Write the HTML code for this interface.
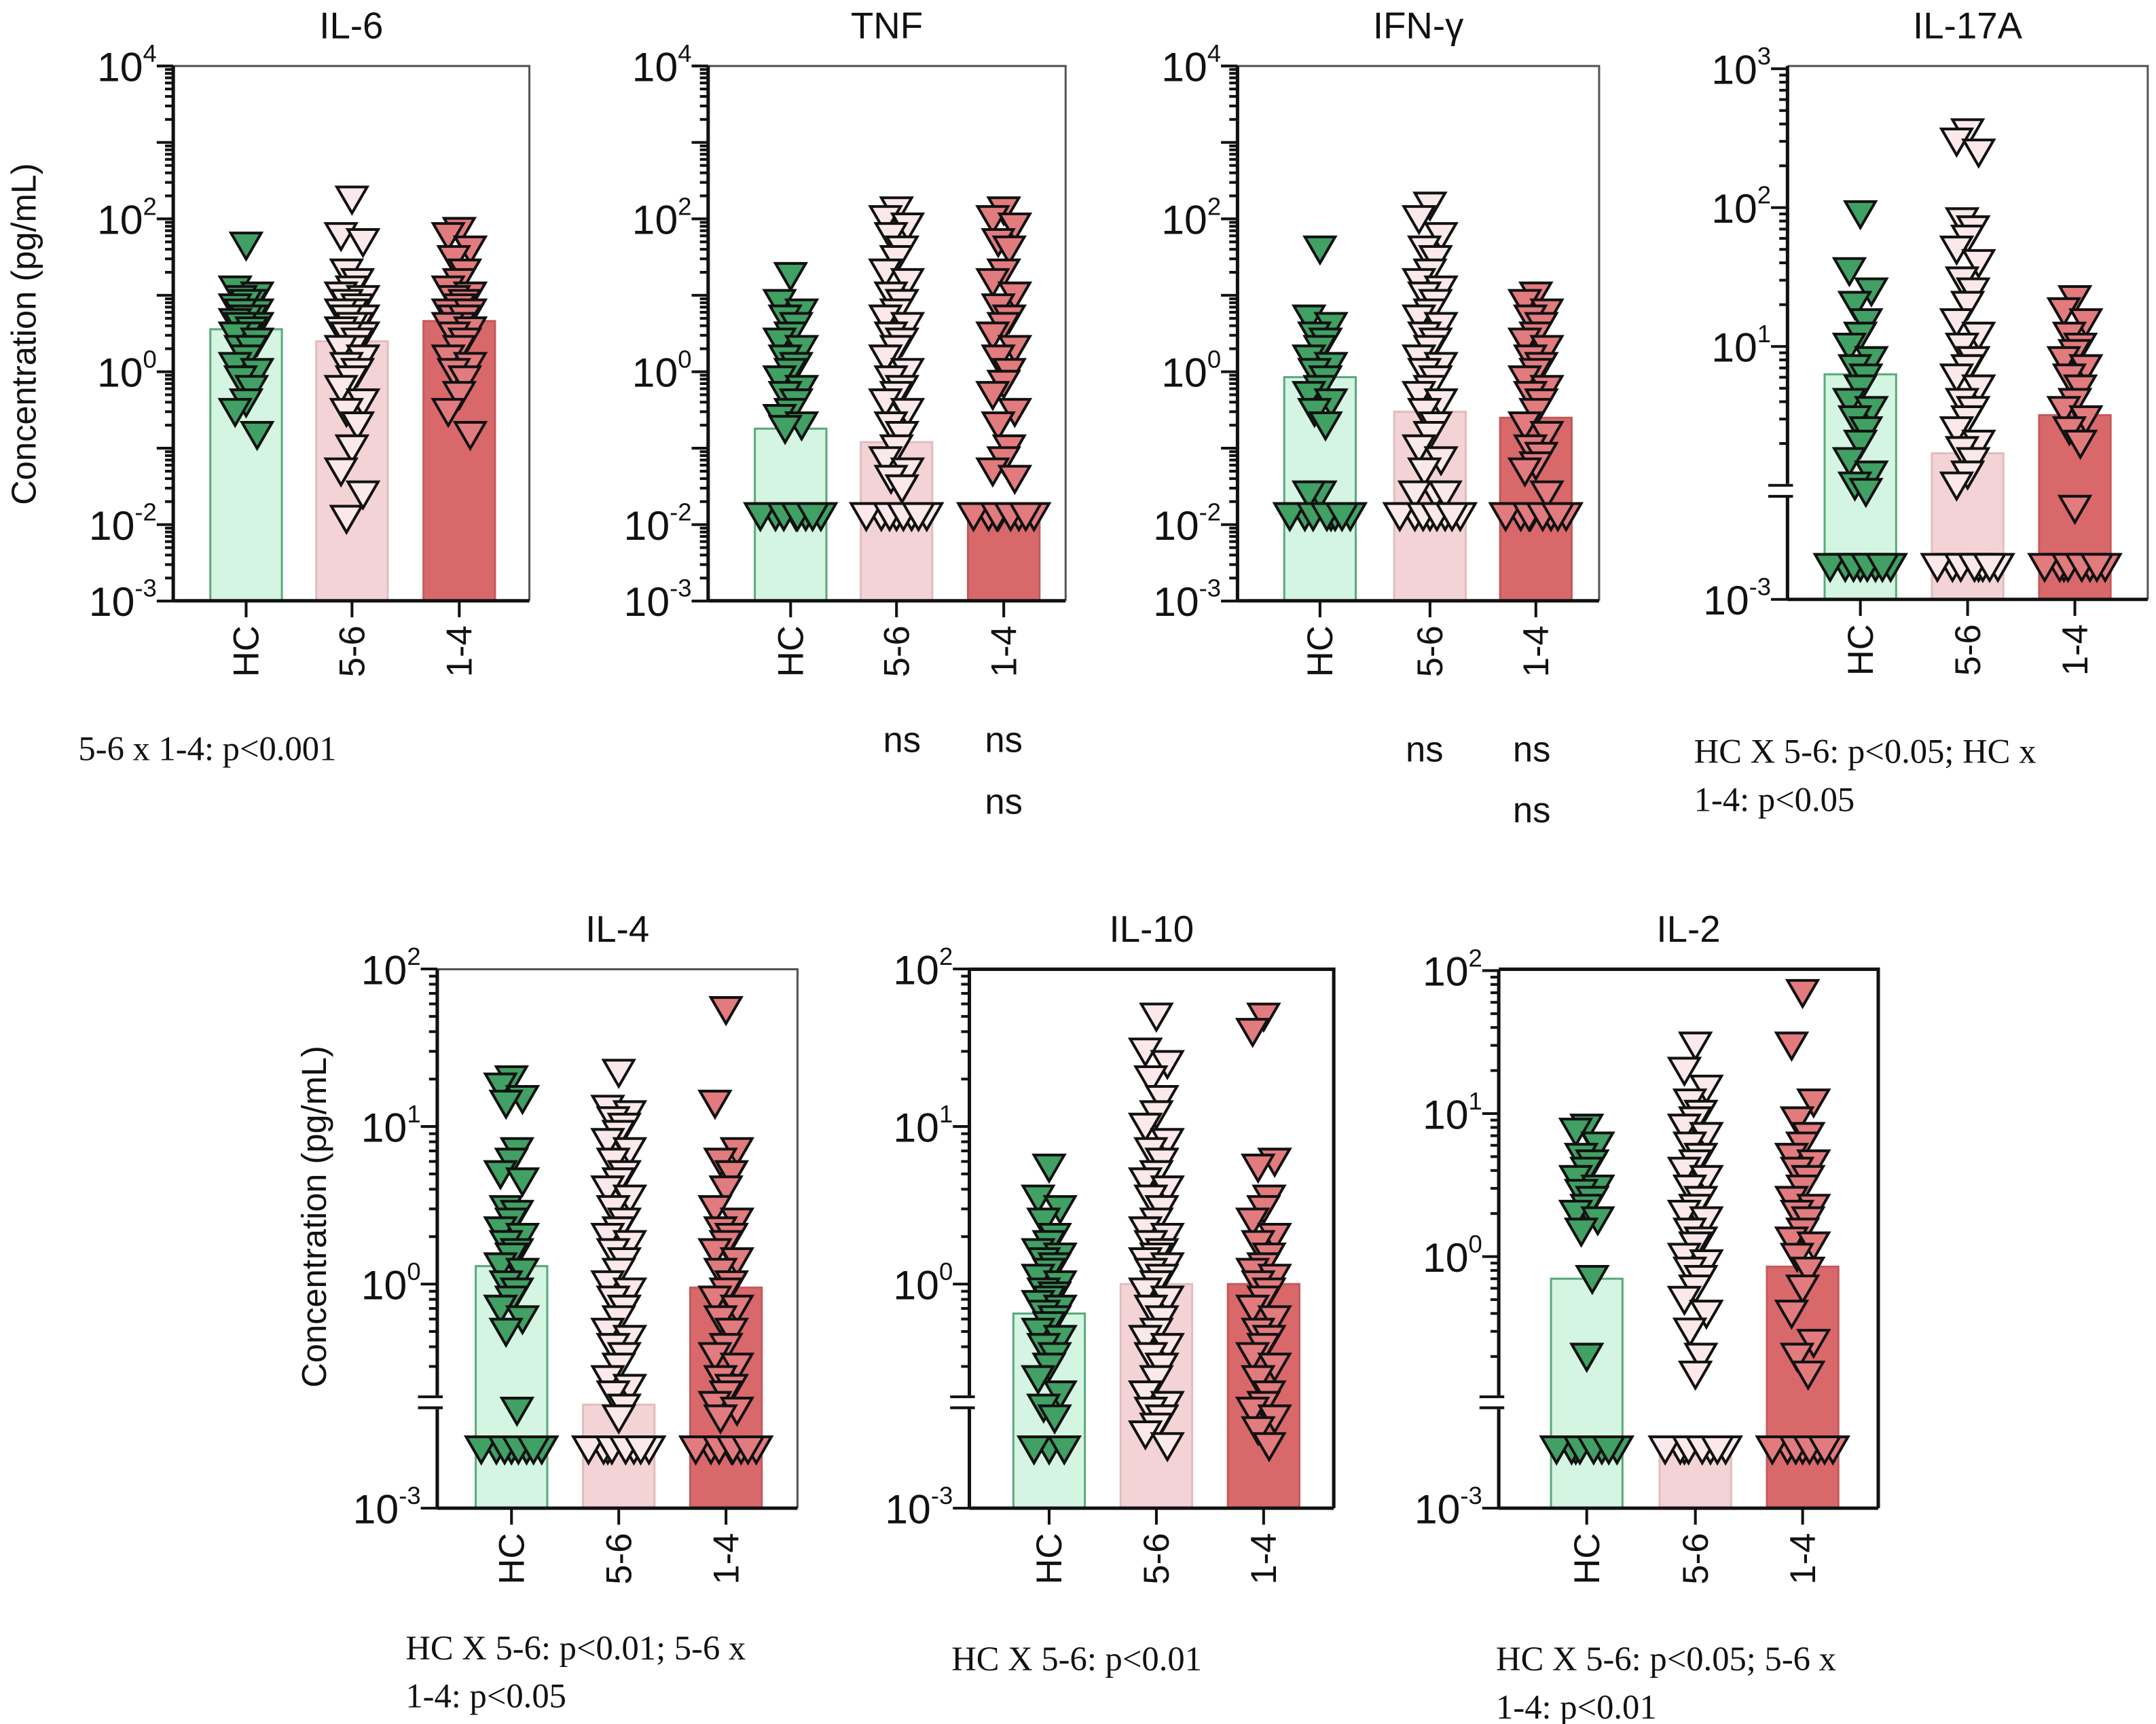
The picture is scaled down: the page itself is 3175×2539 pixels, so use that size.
<!DOCTYPE html>
<html><head><meta charset="utf-8"><style>
html,body{margin:0;padding:0;background:#fff;}
svg{display:block;}
text{font-family:"Liberation Sans","DejaVu Sans",sans-serif;fill:#111;}
.serif{font-family:"Liberation Serif",serif;}
</style></head><body>
<svg id="fig" width="3175" height="2539" viewBox="0 0 1568 1254" preserveAspectRatio="none" xmlns="http://www.w3.org/2000/svg">
<text x="0" y="0" font-size="25" text-anchor="middle" transform="translate(26,243) rotate(-90)">Concentration (pg/mL)</text>
<text x="0" y="0" font-size="25" text-anchor="middle" transform="translate(237,885) rotate(-90)">Concentration (pg/mL)</text>
<text class="serif" x="57" y="553" font-size="25">5-6 x 1-4: p&lt;0.001</text>
<text x="656" y="547" font-size="26" text-anchor="middle">ns</text>
<text x="730" y="547" font-size="26" text-anchor="middle">ns</text>
<text x="730" y="592" font-size="26" text-anchor="middle">ns</text>
<text x="1036" y="554" font-size="26" text-anchor="middle">ns</text>
<text x="1114" y="554" font-size="26" text-anchor="middle">ns</text>
<text x="1114" y="598" font-size="26" text-anchor="middle">ns</text>
<text class="serif" x="1232" y="555" font-size="25">HC X 5-6: p&lt;0.05; HC x</text>
<text class="serif" x="1232" y="590" font-size="25">1-4: p&lt;0.05</text>
<text class="serif" x="295" y="1207" font-size="25">HC X 5-6: p&lt;0.01;  5-6 x</text>
<text class="serif" x="295" y="1242" font-size="25">1-4: p&lt;0.05</text>
<text class="serif" x="692" y="1215" font-size="25">HC X 5-6: p&lt;0.01</text>
<text class="serif" x="1088" y="1215" font-size="25">HC X 5-6: p&lt;0.05; 5-6 x</text>
<text class="serif" x="1088" y="1250" font-size="25">1-4: p&lt;0.01</text>
</svg>
<script>
// ---- data (pg/mL) ----
const groups = ["HC","5-6","1-4"];
const il6_bars = [3.6, 2.5, 4.6];
const il6_hc = [45,12,10,9,8,8,7,6,6,5,5,4.5,4,4,3.5,3,3,2.5,2,2,1.5,1.2,1,0.8,0.6,0.4,0.3,0.15];
const il6_56 = [180,60,50,20,15,12,10,9,8,7,6,6,5,5,4,4,3.5,3,3,2.5,2,2,1.5,1.2,1,0.8,0.6,0.4,0.3,0.2,0.1,0.05,0.025,0.012];
const il6_14 = [70,60,40,30,20,15,12,10,9,8,7,6,6,5,5,4,4,3.5,3,2.5,2,1.5,1.2,1,0.8,0.5,0.3,0.15];
const tnf_bars = [0.18, 0.12, 0.017];
const tnf_hc = [18,8,6,5,4,3,2.5,2,1.5,1.2,1,0.8,0.6,0.5,0.4,0.3,0.25,0.2,0.18,0.013,0.013,0.013,0.013,0.013,0.013,0.013,0.013];
const tnf_56 = [130,100,80,60,40,30,20,15,10,8,6,5,4,3,2.5,2,1.5,1,0.8,0.6,0.5,0.4,0.3,0.2,0.15,0.1,0.07,0.05,0.04,0.03,0.013,0.013,0.013,0.013,0.013,0.013,0.013,0.013];
const tnf_14 = [130,100,80,50,40,20,15,10,7,5,4,3,2,1.5,1,0.7,0.5,0.3,0.2,0.1,0.07,0.05,0.04,0.013,0.013,0.013,0.013,0.013,0.013,0.013,0.013];
const ifn_bars = [0.85, 0.3, 0.25];
const ifn_hc = [40,5,4,3,2.5,2,1.5,1.2,1,0.8,0.6,0.5,0.4,0.3,0.2,0.025,0.025,0.013,0.013,0.013,0.013,0.013,0.013,0.013,0.013];
const ifn_56 = [150,100,60,40,30,20,15,12,10,8,6,5,4,3,2.5,2,1.5,1.2,1,0.8,0.6,0.5,0.4,0.3,0.2,0.15,0.1,0.07,0.05,0.025,0.025,0.025,0.013,0.013,0.013,0.013,0.013,0.013,0.013,0.013];
const ifn_14 = [10,8,6,5,4,3,2.5,2,1.5,1.2,1,0.8,0.6,0.5,0.4,0.3,0.2,0.15,0.1,0.08,0.06,0.05,0.025,0.013,0.013,0.013,0.013,0.013,0.013,0.013,0.013];
const il17_bars = [6.3, 1.7, 3.2];
const il17_hc = [90,35,25,20,15,12,10,8,7,6,5,4,3.5,3,2.5,2,1.5,1.2,1,0.9,0.004,0.004,0.004,0.004,0.004,0.004,0.004,0.004];
const il17_56 = [350,300,250,80,70,60,50,40,30,25,20,15,12,10,8,7,6,5,4,3.5,3,2.5,2,1.8,1.5,1.2,1,0.004,0.004,0.004,0.004,0.004,0.004,0.004,0.004];
const il17_14 = [22,18,15,12,10,9,8,7,6,5,4,3.5,3,2.5,2,0.047,0.004,0.004,0.004,0.004,0.004,0.004,0.004,0.004];
const il4_bars = [1.3, 0.09, 0.95];
const il4_hc = [20,18,15,14,7,6,5,4.5,3,2.8,2.5,2.2,2,1.8,1.6,1.5,1.3,1.2,1,0.9,0.8,0.7,0.6,0.5,0.07,0.013,0.013,0.013,0.013,0.013,0.013,0.013,0.013];
const il4_56 = [22,13,12,11,10,9,8,7,6,5,4.5,4,3.5,3,2.5,2.2,2,1.8,1.6,1.4,1.2,1,0.9,0.8,0.7,0.6,0.5,0.45,0.4,0.35,0.3,0.25,0.22,0.2,0.08,0.05,0.013,0.013,0.013,0.013,0.013,0.013,0.013,0.013];
const il4_14 = [55,14,7,6,5,4,3,2.5,2.2,2,1.8,1.6,1.4,1.2,1,0.9,0.8,0.7,0.6,0.5,0.4,0.35,0.3,0.25,0.22,0.2,0.09,0.07,0.05,0.013,0.013,0.013,0.013,0.013,0.013,0.013,0.013];
const il10_bars = [0.65, 1.0, 1.0];
const il10_hc = [5.5,3.5,3,2.5,2,1.8,1.6,1.5,1.4,1.3,1.2,1.1,1,0.9,0.85,0.8,0.75,0.7,0.65,0.6,0.55,0.5,0.45,0.4,0.35,0.3,0.25,0.2,0.08,0.05,0.013,0.013,0.013];
const il10_56 = [50,30,25,20,15,12,10,8,7,6,5,4.5,4,3.5,3,2.5,2.2,2,1.8,1.6,1.5,1.4,1.3,1.2,1.1,1,0.9,0.8,0.7,0.6,0.5,0.45,0.4,0.35,0.3,0.25,0.2,0.09,0.07,0.05,0.035,0.025,0.015];
const il10_14 = [50,40,6,5.5,3.5,3,2.5,2,1.8,1.5,1.3,1.2,1.1,1,0.9,0.8,0.7,0.6,0.5,0.45,0.4,0.35,0.3,0.25,0.2,0.09,0.07,0.05,0.03,0.015];
const il2_bars = [0.7, 0.01, 0.85];
const il2_hc = [8,7.5,6,5,4.5,4,3.5,3,2.8,2.5,2.2,2,1.8,1.5,0.7,0.2,0.013,0.013,0.013,0.013,0.013,0.013,0.013,0.013];
const il2_56 = [30,20,15,12,10,9,8,7,6,5,4.5,4,3.5,3,2.5,2.2,2,1.8,1.5,1.3,1.2,1,0.9,0.8,0.7,0.6,0.5,0.4,0.3,0.2,0.15,0.013,0.013,0.013,0.013,0.013,0.013,0.013,0.013];
const il2_14 = [70,30,12,9,7,6,5,4.5,4,3.5,3,2.5,2.2,2,1.8,1.5,1.3,1.2,1,0.8,0.6,0.4,0.25,0.2,0.15,0.013,0.013,0.013,0.013,0.013,0.013,0.013,0.013];

// ---- layout ----
const NS = "http://www.w3.org/2000/svg";
const svg = document.getElementById('fig');
const fills = ["#41a063","#fbe8ea","#e27b7e"];
const barFill = ["#d3f5e2","#f3d3d5","#d9686b"];
const barStroke = ["#5aaa7a","#e3bcbf","#c45a5d"];
function mk(tag, attrs, parent){ const e=document.createElementNS(NS,tag); for(const k in attrs) e.setAttribute(k,attrs[k]); (parent||svg).appendChild(e); return e; }

const panels = [
 {key:"il6",title:"IL-6",x0:126,x1:385,cx:[179,256,334],top:48,bottom:437,y0:270.4,dec:55.6,dmin:-3,dmax:4,labels:[4,2,0,-2,-3],bars:il6_bars,data:[il6_hc,il6_56,il6_14]},
 {key:"tnf",title:"TNF",x0:515,x1:775,cx:[575,652,730],top:48,bottom:437,y0:270.4,dec:55.6,dmin:-3,dmax:4,labels:[4,2,0,-2,-3],bars:tnf_bars,data:[tnf_hc,tnf_56,tnf_14]},
 {key:"ifn",title:"IFN-γ",x0:900,x1:1163,cx:[960,1040,1117],top:48,bottom:437,y0:270.4,dec:55.6,dmin:-3,dmax:4,labels:[4,2,0,-2,-3],bars:ifn_bars,data:[ifn_hc,ifn_56,ifn_14]},
 {key:"il17a",title:"IL-17A",x0:1300,x1:1562,cx:[1353,1431,1509],top:48,bottom:436,y0:353,dec:101,dmin:0,dmax:3,labels:[3,2,1],brk:357,brkLog:-0.1,lowScale:39.5,bars:il17_bars,data:[il17_hc,il17_56,il17_14]},
 {key:"il4",title:"IL-4",x0:318,x1:580,cx:[372,450,528],top:705,bottom:1097,y0:934,dec:114.6,dmin:-1,dmax:2,labels:[2,1,0],brk:1020,brkLog:-0.75,lowScale:38.5,bars:il4_bars,data:[il4_hc,il4_56,il4_14]},
 {key:"il10",title:"IL-10",x0:705,x1:970,cx:[763,841,919],top:705,bottom:1097,y0:934,dec:114.6,dmin:-1,dmax:2,labels:[2,1,0],brk:1020,brkLog:-0.75,lowScale:38.5,thickTop:true,bars:il10_bars,data:[il10_hc,il10_56,il10_14]},
 {key:"il2",title:"IL-2",x0:1090,x1:1366,cx:[1154,1233,1311],top:705,bottom:1097,y0:914,dec:104,dmin:-1,dmax:2,labels:[2,1,0],brk:1020,brkLog:-0.95,lowScale:38.5,thickTop:true,bars:il2_bars,data:[il2_hc,il2_56,il2_14]}
];

function yOf(p,v){ const l=Math.log10(v); if(!p.brk || l>=p.brkLog) return p.y0 - l*p.dec; return p.bottom - (l+3)*p.lowScale; }
const jitMain=[0,-8,8,-4,4];
const jitLod=[0,-11,11,-22,22,-5,5,16];

panels.forEach(p=>{
  const g = mk('g',{});
  
  
  const t = mk('text',{x:(p.x0+p.x1)/2,y:p.top-20,'font-size':27,'text-anchor':'middle'},g);
  
  
  t.textContent=p.title;
  const fr = mk('path',{d:`M${p.x0} ${p.top} H${p.x1} V${p.bottom}`,fill:'none',stroke:p.thickTop?'#111':'#555','stroke-width':p.thickTop?2.5:1.5},g);
  
  
  p.bars.forEach((b,i)=>{
    const y=yOf(p,b);
    const r=mk('rect',{x:p.cx[i]-26,y:y,width:52,height:p.bottom-y,fill:barFill[i],stroke:barStroke[i],'stroke-width':1.5},g);
    
    
  });
  p.data.forEach((arr,i)=>{
    const counts={};
    let n=0;
    arr.forEach(v=>{
      const y=yOf(p,v);
      const key=v.toFixed(4);
      counts[key]=(counts[key]||0)+1;
      let x;
      if(counts[key]>2) x=p.cx[i]+jitLod[(counts[key]-1)%8];
      else if(counts[key]===2 && arr.filter(q=>q===v).length>2) x=p.cx[i]+jitLod[1];
      else { x=p.cx[i]+jitMain[n%5]; n++; }
      const tri=mk('path',{d:`M${x-11} ${y-9} H${x+11} L${x} ${y+10} Z`,fill:fills[i],stroke:'#111','stroke-width':2,'stroke-linejoin':'miter'},g);
      
      
    });
  });
  const ax = mk('line',{x1:p.x0,y1:p.top,x2:p.x0,y2:p.bottom,stroke:'#111','stroke-width':2.5},g);
  
  
  const ticks=[];
  for(let d=p.dmin; d<=p.dmax; d++){ ticks.push([p.y0-d*p.dec,12]); if(d<p.dmax) for(let m=2;m<=9;m++) ticks.push([p.y0-(d+Math.log10(m))*p.dec,6]); }
  if(p.brk){ ticks.push([p.bottom,12]); }
  ticks.forEach(([y,l])=>{ if(y<p.top-1||y>p.bottom+1) return; if(p.brk && y>p.brk-6 && y<p.bottom-1) return; mk('line',{x1:p.x0-l,y1:y,x2:p.x0,y2:y,stroke:'#111','stroke-width':2},g); });
  if(p.brk){
    mk('rect',{x:p.x0-3,y:p.brk-5,width:6,height:10,fill:'#fff'},g);
    mk('line',{x1:p.x0-14,y1:p.brk-4,x2:p.x0+4,y2:p.brk-4,stroke:'#111','stroke-width':2},g);
    mk('line',{x1:p.x0-14,y1:p.brk+4,x2:p.x0+4,y2:p.brk+4,stroke:'#111','stroke-width':2},g);
  }
  const labs = p.labels.concat(p.brk?[-3]:[]);
  labs.forEach(d=>{
    const y = d===-3? p.bottom : p.y0-d*p.dec;
    const tx=mk('text',{x:p.x0-12,y:y+11,'font-size':30,'text-anchor':'end'},g);
    
    
    const a=document.createElementNS(NS,'tspan'); a.textContent='10'; tx.appendChild(a);
    const b=document.createElementNS(NS,'tspan'); b.setAttribute('dy','-14'); b.setAttribute('font-size','18'); b.textContent=String(d); tx.appendChild(b);
  });
  const xa = mk('line',{x1:p.x0,y1:p.bottom,x2:p.x1,y2:p.bottom,stroke:'#111','stroke-width':2.5},g);
  
  
  groups.forEach((gname,i)=>{
    mk('line',{x1:p.cx[i],y1:p.bottom,x2:p.cx[i],y2:p.bottom+12,stroke:'#111','stroke-width':2},g);
    const lt=mk('text',{x:0,y:0,'font-size':26,'text-anchor':'end',transform:`translate(${p.cx[i]+9},${p.bottom+18}) rotate(-90)`},g);
    
    
    lt.textContent=gname;
  });
});
</script>
</body></html>
